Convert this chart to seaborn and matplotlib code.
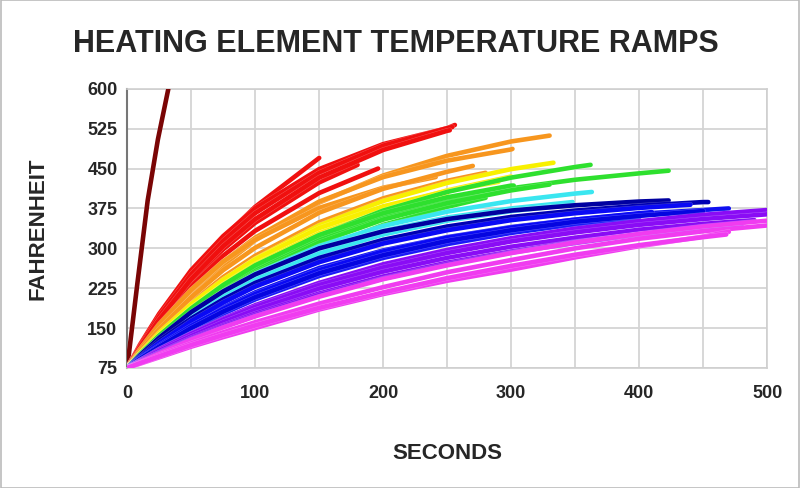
import matplotlib
matplotlib.use("Agg")
import matplotlib.pyplot as plt
import matplotlib.patheffects as pe
import pandas as pd
import seaborn as sns
from matplotlib.ticker import MultipleLocator
from matplotlib.patches import Rectangle

# sample times (s) shared by all curves; each curve stops at its own end time
GRID_T = [0, 10, 25, 50, 75, 100, 150, 200, 250, 300, 350, 400, 450, 500]

DARK_RED_T = [0, 8, 16, 24, 33]
DARK_RED_F = [75, 235, 390, 505, 610]

RED_END = [150, 180, 196, 256, 254, 252]
RED_F = [
    [75, 114, 170, 251, 320, 378, 470],
    [75, 113, 164, 237, 298, 348, 424, 457],
    [75, 111, 159, 228, 286, 333, 404, 450],
    [75, 119, 177, 259, 323, 375, 449, 496, 526, 532],
    [75, 116, 172, 251, 314, 366, 442, 493, 526, 528],
    [75, 114, 166, 242, 304, 355, 433, 485, 521, 522],
]

ORANGE_END = [330, 301, 241, 280, 270]
ORANGE_F = [
    [75, 107, 151, 214, 268, 315, 386, 437, 474, 501, 512],
    [75, 109, 155, 221, 275, 320, 388, 434, 465, 486, 487],
    [75, 110, 157, 222, 275, 316, 376, 414, 434],
    [75, 103, 142, 198, 246, 286, 349, 394, 427, 442],
    [75, 106, 148, 208, 259, 301, 367, 412, 444, 455],
]

YELLOW_END = [333, 300, 290, 250]
YELLOW_F = [
    [75, 102, 139, 193, 240, 280, 343, 389, 423, 449, 461],
    [75, 100, 134, 186, 230, 268, 329, 375, 409, 435],
    [75, 103, 141, 195, 241, 279, 338, 379, 408, 425],
    [75, 101, 137, 188, 232, 270, 328, 369, 400],
]

GREEN_END = [362, 423, 302, 280, 330]
GREEN_F = [
    [75, 99, 132, 182, 225, 263, 324, 371, 406, 433, 453, 457],
    [75, 99, 133, 182, 224, 261, 318, 360, 390, 413, 429, 441, 446],
    [75, 101, 136, 187, 231, 268, 325, 366, 396, 418, 418],
    [75, 96, 125, 169, 208, 242, 299, 344, 378, 395],
    [75, 98, 130, 178, 219, 254, 311, 354, 385, 409, 420],
]

CYAN_END = [363, 348, 330]
CYAN_F = [
    [75, 98, 131, 178, 218, 252, 304, 342, 369, 389, 403, 406],
    [75, 98, 131, 177, 216, 248, 298, 333, 358, 375, 387],
    [75, 97, 128, 172, 209, 241, 290, 326, 352, 370, 378],
]

BLUE_END = [423, 454, 470, 440, 410, 400, 450]
BLUE_F = [
    [75, 99, 132, 180, 219, 251, 300, 332, 355, 371, 381, 388, 390],
    [75, 96, 126, 168, 204, 235, 282, 316, 341, 359, 371, 380, 387, 387],
    [75, 93, 119, 157, 189, 217, 263, 296, 321, 340, 354, 365, 372, 375],
    [75, 95, 122, 163, 198, 228, 274, 309, 334, 353, 366, 376, 382],
    [75, 93, 117, 154, 186, 214, 259, 294, 320, 339, 354, 366, 368],
    [75, 91, 114, 147, 177, 204, 248, 282, 308, 329, 345, 358],
    [75, 92, 115, 150, 181, 208, 253, 287, 314, 334, 350, 361, 370],
]
BLUE_COLORS = ["#0000a0", "#0000b4", "#1010f0", "#0a0af5", "#0a0af5", "#1a1af8", "#0505e0"]

PURPLE_END = [500, 500, 490, 480, 440]
PURPLE_F = [
    [75, 89, 110, 140, 168, 193, 235, 270, 297, 319, 337, 351, 363, 372],
    [75, 89, 109, 139, 166, 190, 231, 264, 291, 313, 330, 344, 355, 364],
    [75, 88, 107, 135, 161, 184, 224, 256, 282, 303, 320, 335, 346, 353],
    [75, 87, 104, 131, 155, 177, 215, 247, 273, 294, 312, 326, 338, 344],
    [75, 87, 103, 129, 153, 174, 212, 243, 270, 292, 310, 326, 336],
]

MAGENTA_END = [500, 500, 470, 468]
MAGENTA_F = [
    [75, 86, 102, 128, 151, 172, 209, 242, 268, 291, 311, 327, 341, 352],
    [75, 85, 99, 121, 142, 161, 196, 227, 255, 278, 300, 318, 332, 343],
    [75, 83, 95, 115, 133, 150, 185, 214, 239, 260, 283, 304, 322, 331],
    [75, 84, 97, 118, 137, 155, 188, 217, 244, 267, 288, 306, 321, 326],
]

GROUPS = [
    ("red", ["#f0100f"] * 6, RED_END, RED_F),
    ("orange", ["#f7961e"] * 5, ORANGE_END, ORANGE_F),
    ("yellow", ["#f8f000"] * 4, YELLOW_END, YELLOW_F),
    ("green", ["#2ee02e"] * 5, GREEN_END, GREEN_F),
    ("cyan", ["#3ae6f0"] * 3, CYAN_END, CYAN_F),
    ("blue", BLUE_COLORS, BLUE_END, BLUE_F),
    ("purple", ["#8a0cf5"] * 5, PURPLE_END, PURPLE_F),
    ("magenta", ["#f03cf0"] * 4, MAGENTA_END, MAGENTA_F),
]

# build long-form table
rows = []
palette = {"darkred": "#7a0505"}
for t, f in zip(DARK_RED_T, DARK_RED_F):
    rows.append({"curve": "darkred", "t": t, "F": f})
for name, colors, ends, temps in GROUPS:
    for i, (end, vals) in enumerate(zip(ends, temps)):
        times = [g for g in GRID_T if g < end] + [end]
        key = f"{name}{i}"
        palette[key] = colors[i]
        for t, f in zip(times, vals):
            rows.append({"curve": key, "t": t, "F": f})
df = pd.DataFrame(rows)

sns.set_theme(style="white")
plt.rcParams["font.family"] = ["Liberation Sans", "DejaVu Sans"]

fig = plt.figure(figsize=(8, 4.88), dpi=100)
ax = fig.add_axes([0.159, 0.246, 0.800, 0.572])

# faint light edge around every ramp, like the source image
edge = [pe.Stroke(linewidth=3.9, foreground="white", alpha=0.3), pe.Normal()]
sns.lineplot(data=df, x="t", y="F", hue="curve", palette=palette,
             hue_order=list(palette.keys()), units="curve", estimator=None,
             sort=False, legend=False, linewidth=3.3, ax=ax, zorder=3,
             path_effects=edge)

ax.set_xlim(0, 500)
ax.set_ylim(75, 600)
ax.xaxis.set_major_locator(MultipleLocator(100))
ax.xaxis.set_minor_locator(MultipleLocator(50))
ax.yaxis.set_major_locator(MultipleLocator(75))
ax.grid(which="both", axis="x", color="#d4d4d4", linewidth=1.3, zorder=0)
ax.grid(which="major", axis="y", color="#d4d4d4", linewidth=1.3, zorder=0)
ax.set_axisbelow(True)
for side in ["top", "right", "bottom"]:
    ax.spines[side].set_color("#cfcfcf")
    ax.spines[side].set_linewidth(1.2)
ax.spines["left"].set_color("#777777")
ax.spines["left"].set_linewidth(1.5)

ax.tick_params(axis="both", which="both", length=0, labelsize=13)
ax.tick_params(axis="y", pad=7)
ax.tick_params(axis="x", pad=12)
for lbl in ax.get_xticklabels() + ax.get_yticklabels():
    lbl.set_fontweight("bold")

ax.set_xlabel("SECONDS", fontsize=16, fontweight="bold", labelpad=30)
ax.set_ylabel("FAHRENHEIT", fontsize=16, fontweight="bold", labelpad=28)

fig.text(0.495, 0.91, "HEATING ELEMENT TEMPERATURE RAMPS", ha="center",
         va="center", fontsize=22, fontweight="bold")

fig.add_artist(Rectangle((0.001, 0.001), 0.998, 0.998, transform=fig.transFigure,
                         fill=False, edgecolor="#bbbbbb", linewidth=1.2))

fig.savefig("out.png", dpi=100)
